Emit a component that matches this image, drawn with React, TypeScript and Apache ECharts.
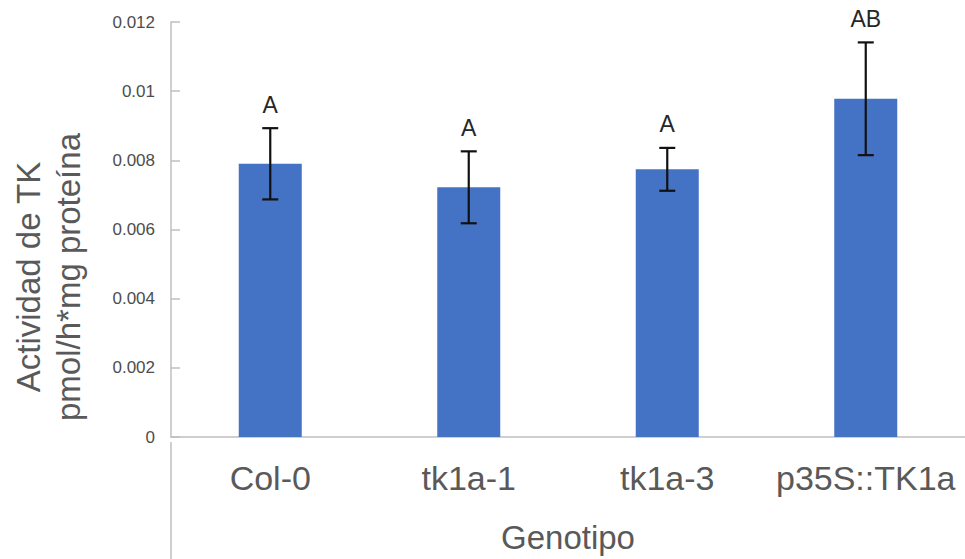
import React, { useEffect, useRef } from "react";
import * as echarts from "echarts";

const categories = ["Col-0", "tk1a-1", "tk1a-3", "p35S::TK1a"];
const means = [0.0079, 0.00722, 0.00774, 0.00978];
const errors = [0.00103, 0.00104, 0.00062, 0.00163];
const letters = ["A", "A", "A", "AB"];
const yTicks = { min: 0, max: 0.012, interval: 0.002 };
const yTitle = "Actividad de TK\npmol/h*mg proteína";
const xTitle = "Genotipo";

const FONT = "Liberation Sans, Arial, sans-serif";

export default function App() {
  const ref = useRef<HTMLDivElement>(null);
  useEffect(() => {
    if (!ref.current) return;
    const chart = echarts.init(ref.current, null, { renderer: "svg", width: 965, height: 559 });
    const errData = categories.map((_, i) => [i, means[i] - errors[i], means[i] + errors[i], letters[i]]);
    chart.setOption({
      animation: false,
      backgroundColor: "#ffffff",
      textStyle: { fontFamily: FONT },
      grid: { left: 171, top: 22, width: 810, height: 420, containLabel: false },
      xAxis: {
        type: "category",
        data: categories,
        axisLine: { show: true, lineStyle: { color: "#bfbfbf", width: 1.5 } },
        axisTick: { show: false },
        axisLabel: { interval: 0, fontSize: 34, color: "#595959", margin: 24, fontFamily: FONT },
        name: xTitle,
        nameLocation: "middle",
        nameGap: 84,
        nameTextStyle: { fontSize: 33, color: "#595959", fontFamily: FONT },
      },
      yAxis: {
        type: "value",
        min: yTicks.min,
        max: yTicks.max,
        interval: yTicks.interval,
        axisLine: { show: true, lineStyle: { color: "#bfbfbf", width: 1.5 } },
        axisTick: { show: true, inside: true, length: 9, lineStyle: { color: "#bfbfbf", width: 1.5 } },
        splitLine: { show: false },
        axisLabel: {
          fontSize: 17,
          color: "#4d4d4d",
          margin: 16,
          fontFamily: FONT,
          formatter: (v: number) => String(Number(v.toFixed(4))),
        },
      },
      graphic: [
        {
          type: "line",
          shape: { x1: 171, y1: 442, x2: 171, y2: 559 },
          style: { stroke: "#bfbfbf", lineWidth: 1.5 },
        },
        {
          type: "text",
          x: 48,
          y: 277,
          rotation: Math.PI / 2,
          style: {
            text: yTitle,
            fontSize: 33,
            fontFamily: FONT,
            fill: "#595959",
            align: "center",
            verticalAlign: "middle",
            lineHeight: 40,
          },
        },
      ],
      series: [
        {
          type: "bar",
          data: means,
          barWidth: 63,
          itemStyle: { color: "#4472C4" },
        },
        {
          type: "custom",
          data: errData,
          z: 10,
          renderItem: (params: any, api: any) => {
            const i = api.value(0);
            const lo = api.coord([i, api.value(1)]);
            const hi = api.coord([i, api.value(2)]);
            const letter = letters[params.dataIndex];
            const cap = 8;
            const st = { stroke: "#111111", lineWidth: 2.2 };
            return {
              type: "group",
              children: [
                { type: "line", shape: { x1: hi[0], y1: hi[1], x2: lo[0], y2: lo[1] }, style: st },
                { type: "line", shape: { x1: hi[0] - cap, y1: hi[1], x2: hi[0] + cap, y2: hi[1] }, style: st },
                { type: "line", shape: { x1: lo[0] - cap, y1: lo[1], x2: lo[0] + cap, y2: lo[1] }, style: st },
                {
                  type: "text",
                  x: hi[0],
                  y: hi[1] - 12,
                  style: {
                    text: letter,
                    fontSize: 23,
                    fontFamily: FONT,
                    fill: "#262626",
                    align: "center",
                    verticalAlign: "bottom",
                  },
                },
              ],
            };
          },
        },
      ],
    });
    return () => chart.dispose();
  }, []);
  return (
    <div
      ref={ref}
      style={{ position: "fixed", left: 0, top: 0, width: 965, height: 559, background: "#fff" }}
    />
  );
}
